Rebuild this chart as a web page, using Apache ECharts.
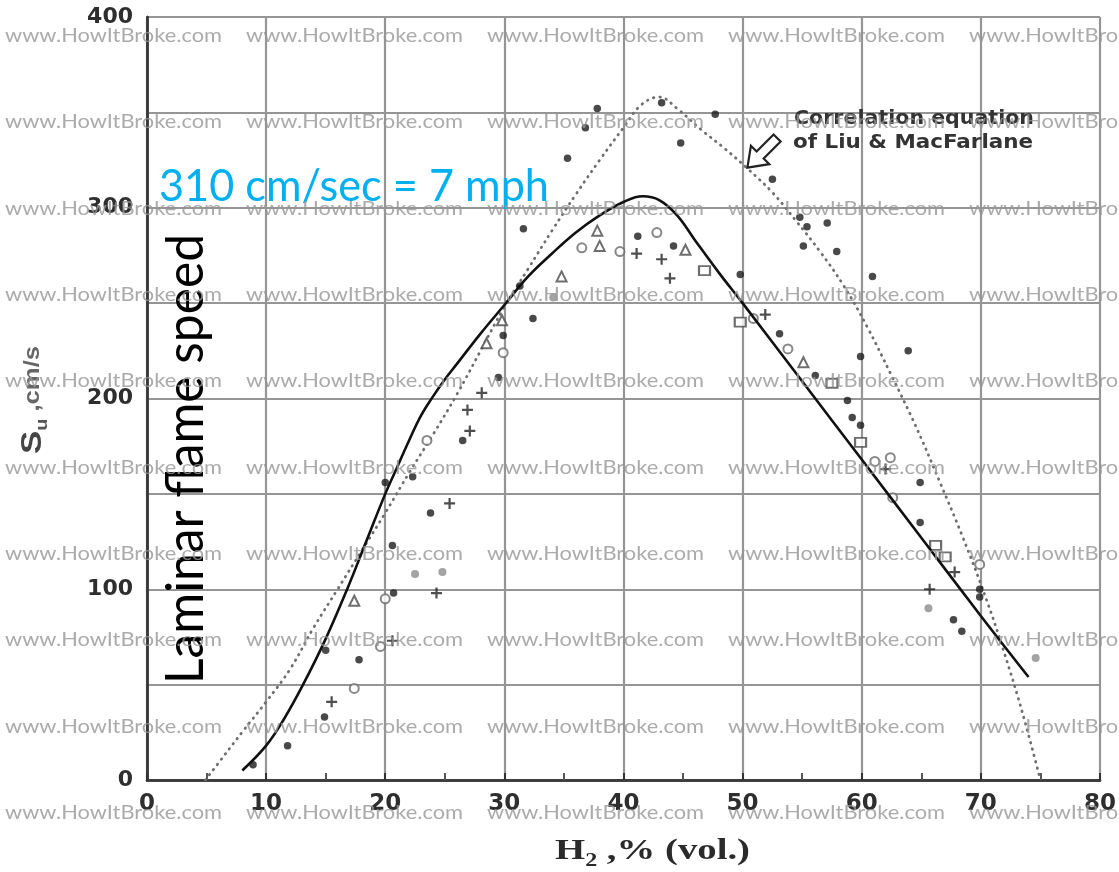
<!DOCTYPE html>
<html><head><meta charset="utf-8">
<script src="https://cdn.jsdelivr.net/npm/echarts@6/dist/echarts.min.js"></script>
<style>html,body{margin:0;padding:0;background:#fff}#c{width:1119px;height:872px}</style>
</head><body><div id="c"></div>
<script>
// ---- data ----
const xTicks = [0, 10, 20, 30, 40, 50, 60, 70, 80];
const yTicks = [0, 100, 200, 300, 400];

const solidCurve = [[8,5],[10,18],[11.5,32],[13.1,50],[15,74],[16.8,100],[18.4,125],[20,150],[21,164],[22,178],[23,191],[24,201],[25,210],[26,218],[28,234],[30,249],[32,264],[34,276],[36,287],[38,296],[40,303],[41.6,306],[43,304],[44.5,296],[46,283],[48,266],[50,250],[55,209],[60,168],[65,127],[70,86],[74,54]];

const liuMacFarlane = [[4.9,0],[6.5,13],[8.1,26],[10,41],[12,58],[14,80],[16,100],[18,120],[20,140],[22,161],[24,181],[26,202],[28,225],[30,248],[32,268],[34,288],[36,307],[38,325],[40,342],[41.5,354],[43,358],[44.5,352],[46.5,341],[48.5,331],[50.5,320],[52.5,308],[54.5,293],[56.5,277],[58.5,259],[60.5,237],[62.5,212],[64.5,186],[66.5,157],[68.5,127],[70.5,94],[72,66],[73.5,35],[75,0]];

const filledDots = [[8.9,8],[11.8,18],[14.9,33],[15,68],[17.8,63],[20.7,98],[20.6,123],[23.8,140],[20,156],[22.3,159],[26.5,178],[37.8,352],[36.8,342],[35.3,326],[43.2,355],[47.7,349],[44.8,334],[31.6,289],[41.2,285],[44.2,280],[32.4,242],[29.9,233],[29.5,211],[31.3,259],[52.5,315],[54.8,295],[55.4,290],[57.1,292],[55.1,280],[57.9,277],[60.9,264],[49.8,265],[53.1,234],[56.1,212],[58.8,199],[59.2,190],[59.9,222],[59.9,186],[63.9,225],[64.9,156],[64.9,135],[69.9,100],[69.9,96],[67.7,84],[68.4,78]];
const grayDots = [[22.5,108],[24.8,109],[34.1,253],[65.6,90],[74.6,64]];
const openCircles = [[17.4,48],[19.6,70],[20,95],[23.5,178],[36.5,279],[42.8,287],[39.7,277],[29.9,224],[50.9,242],[53.8,226],[61.1,167],[62.4,169],[62.6,148],[69.9,113]];
const openTriangles = [[17.4,94],[28.5,229],[29.8,241],[37.8,288],[38,280],[45.2,278],[34.8,264],[55.1,219]];
const openSquares = [[46.8,267],[49.8,240],[57.5,208],[59.9,177],[66.2,123],[67,117]];
const plusMarks = [[15.5,41],[20.6,73],[24.3,98],[25.4,145],[28.1,203],[26.9,194],[27.1,183],[41.1,276],[43.2,273],[43.9,263],[51.9,244],[65.7,100],[62,163],[67.8,109]];

const arrowTip = [50.4, 321];

// ---- helpers ----
const ctx = document.createElement('canvas').getContext('2d');
function measure(text, size, family, weight) {
  ctx.font = (weight || 'normal') + ' ' + size + 'px ' + family;
  return ctx.measureText(text).width;
}
function txt(text, size, family, weight, fill, x, y, targetW, extra) {
  const w = measure(text, size, family, weight);
  const el = {
    type: 'text', x: x, y: y, scaleX: targetW ? targetW / w : 1, silent: true,
    style: { text: text, fontSize: size, fontFamily: family, fontWeight: weight || 'normal',
      fill: fill, align: 'left', textAlign: 'left', verticalAlign: 'middle', textVerticalAlign: 'middle' }
  };
  return Object.assign(el, extra || {});
}

const chart = echarts.init(document.getElementById('c'), null, { renderer: 'canvas' });

const frame = { show: true, lineStyle: { color: '#3a3a3a', width: 2.5 } };
const labelFont = { fontFamily: 'DejaVu Sans', fontWeight: 'bold', color: '#2e2e2e' };

chart.setOption({
  animation: false,
  backgroundColor: '#fff',
  grid: { left: 147, right: 19, top: 17, bottom: 92 },
  xAxis: [{
    type: 'value', min: 0, max: 80, interval: 10, position: 'bottom',
    axisLine: frame,
    axisTick: { show: true, inside: true, length: 7, lineStyle: { color: '#333', width: 2 } },
    minorTick: { show: true, splitNumber: 2, length: 7, lineStyle: { color: '#333', width: 2 } },
    axisLabel: Object.assign({ fontSize: 23, margin: 13, formatter: v => xTicks.includes(v) ? String(v) : '' }, labelFont),
    splitLine: { show: true, lineStyle: { color: '#959595', width: 2.2 } }
  }, {
    type: 'value', min: 0, max: 80, interval: 10, position: 'top',
    axisLine: frame,
    axisTick: { show: false },
    minorTick: { show: true, splitNumber: 2, length: 7, lineStyle: { color: '#555', width: 2 } },
    axisLabel: { show: false }, splitLine: { show: false }
  }],
  yAxis: [{
    type: 'value', min: 0, max: 400, interval: 50, position: 'left',
    axisLine: frame, axisTick: { show: false },
    axisLabel: Object.assign({ fontSize: 22, margin: 14, formatter: v => yTicks.includes(v) ? String(v) : '' }, labelFont),
    splitLine: { show: true, lineStyle: { color: '#959595', width: 2.2 } }
  }, {
    type: 'value', min: 0, max: 400, interval: 50, position: 'right',
    axisLine: frame, axisTick: { show: false }, axisLabel: { show: false }, splitLine: { show: false }
  }],
  series: [
    { type: 'line', data: liuMacFarlane, smooth: 0.4, showSymbol: false, z: 3,
      lineStyle: { color: '#6e6e6e', width: 2.8, type: [0.5, 6], cap: 'round' } },
    { type: 'scatter', data: grayDots, symbol: 'circle', symbolSize: 8, z: 4,
      itemStyle: { color: '#8c8c8c' } },
    { type: 'scatter', data: openCircles, symbol: 'emptyCircle', symbolSize: 9, z: 4,
      itemStyle: { color: '#6a6a6a', borderWidth: 2 } },
    { type: 'scatter', data: openTriangles, symbol: 'emptyTriangle', symbolSize: 10, z: 4,
      itemStyle: { color: '#4a4a4a', borderWidth: 1.6 } },
    { type: 'scatter', data: openSquares, symbol: 'emptyRect', symbolSize: [11, 9], z: 4,
      itemStyle: { color: '#4a4a4a', borderWidth: 1.6 } },
    { type: 'scatter', data: plusMarks, symbol: 'path://M4,0H6V4H10V6H6V10H4V6H0V4H4Z', symbolSize: 11, z: 4,
      itemStyle: { color: '#222' } },
    { type: 'scatter', data: filledDots, symbol: 'circle', symbolSize: 7.5, z: 4,
      itemStyle: { color: '#1b1b1b' } },
    { type: 'line', data: solidCurve, smooth: 0.4, showSymbol: false, z: 5,
      lineStyle: { color: '#111', width: 2.6 } }
  ]
});

// ---- annotations ----
const g = [];
// watermark grid
const wm = 'www.HowItBroke.com';
for (let r = 0; r < 10; r++) {
  for (let c = 0; c < 5; c++) {
    g.push(txt(wm, 19, 'Lato', 'normal', 'rgba(150,150,150,0.8)', 5 + c * 241, 36 + r * 86.3, 217, { z: 200 }));
  }
}
// axis titles
(function () {
  const fam = 'Liberation Serif';
  const w1 = measure('H', 29, fam, 'bold'), w2 = measure('2', 18, fam, 'bold');
  const rest = ' ,% (vol.)';
  const w3 = measure(rest, 29, fam, 'bold');
  const s = 195 / (w1 + w2 + w3);
  const st = (t, size) => ({ text: t, fontSize: size, fontFamily: fam, fontWeight: 'bold', fill: '#2a2a2a',
    align: 'left', textAlign: 'left', verticalAlign: 'middle', textVerticalAlign: 'middle' });
  g.push({ type: 'group', x: 555, y: 852, scaleX: s, silent: true, children: [
    { type: 'text', x: 0, y: 0, style: st('H', 29) },
    { type: 'text', x: w1, y: 9, style: st('2', 18) },
    { type: 'text', x: w1 + w2, y: 0, style: st(rest, 29) }
  ]});
})();
(function () {
  const fam = 'Liberation Sans';
  const w1 = measure('S', 30, fam, 'bold'), w2 = measure('u', 17, fam, 'bold');
  const rest = ' ,cm/s';
  const w3 = measure(rest, 22, fam, 'bold');
  const s = 108 / (w1 + w2 + w3);
  const st = (t, size, col) => ({ text: t, fontSize: size, fontFamily: fam, fontWeight: 'bold', fill: col,
    align: 'left', textAlign: 'left', verticalAlign: 'middle', textVerticalAlign: 'middle' });
  g.push({ type: 'group', x: 33, y: 454, rotation: Math.PI / 2, scaleX: s, silent: true, children: [
    { type: 'text', x: 0, y: 0, style: st('S', 30, '#444') },
    { type: 'text', x: w1, y: 9, style: st('u', 17, '#555') },
    { type: 'text', x: w1 + w2, y: 0, style: st(rest, 22, '#666') }
  ]});
})();
// correlation note
g.push(txt('Correlation equation', 19, 'DejaVu Sans', 'bold', '#333', 794, 119, 240));
g.push(txt('of Liu & MacFarlane', 19, 'DejaVu Sans', 'bold', '#333', 793, 143, 240));
// overlay texts
g.push(txt('310 cm/sec = 7 mph', 44, 'Lato', 'normal', '#00B0F0', 159, 187, 390, { z: 150 }));
g.push(txt('Laminar flame speed', 52, 'Lato', 'normal', '#000', 186, 684, 450, { rotation: Math.PI / 2, z: 150 }));

// arrow pointing at the dotted curve
const tip = chart.convertToPixel({ xAxisIndex: 0, yAxisIndex: 0 }, arrowTip);
const loc = [[0,0],[18,-13],[18,-5],[42,-5],[42,5],[18,5],[18,13]];
const ux = Math.SQRT1_2, uy = -Math.SQRT1_2, nx = Math.SQRT1_2, ny = Math.SQRT1_2;
const pts = loc.map(p => [tip[0] + p[0] * ux + p[1] * nx, tip[1] + p[0] * uy + p[1] * ny]);
g.push({ type: 'polygon', shape: { points: pts }, silent: true, z: 120,
  style: { fill: '#fff', stroke: '#222', lineWidth: 2.2 } });

chart.setOption({ graphic: { elements: g } });
</script>
</body></html>
